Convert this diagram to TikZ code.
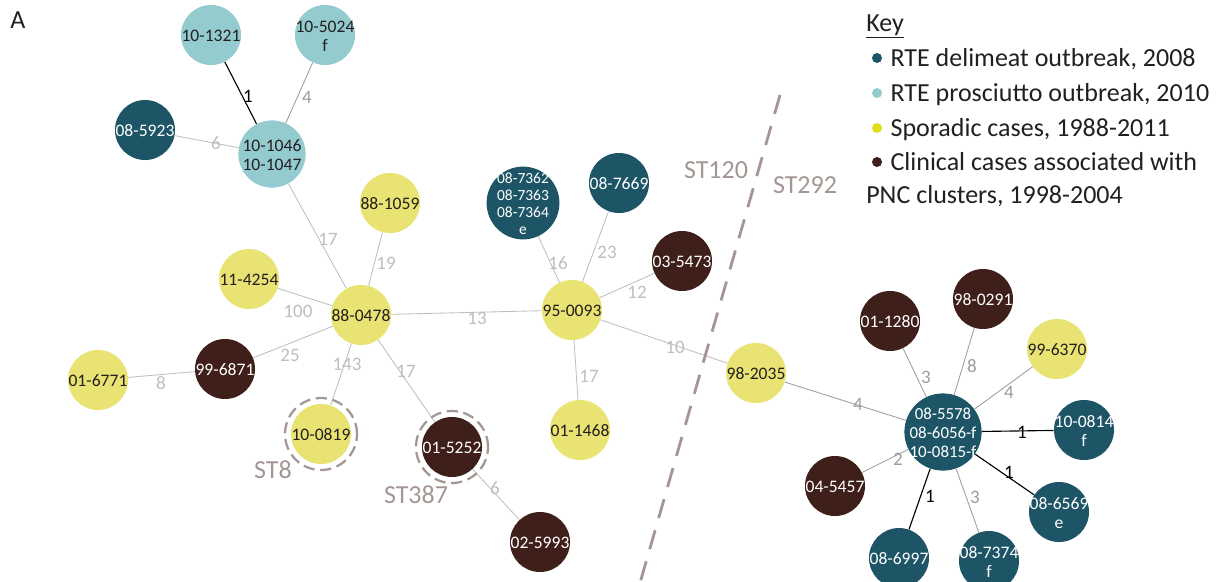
\documentclass[tikz,border=0pt]{standalone}
\usepackage{fontspec}
\setmainfont{Carlito}
\usetikzlibrary{positioning}
\definecolor{colDeli}{HTML}{1E5566}
\definecolor{colPros}{HTML}{94CBCE}
\definecolor{colSpor}{HTML}{E8E373}
\definecolor{colPnc}{HTML}{3E1F1A}
\definecolor{colSporKey}{HTML}{E3DD1E}
\definecolor{colST}{HTML}{A39693}
\definecolor{colInk}{HTML}{231F20}
\definecolor{lnLight}{HTML}{BEBEBE}
\definecolor{lnMid}{HTML}{9C9C9C}
\newcommand{\isotext}[1]{\makebox[0pt]{\raisebox{-0.5\height}[0pt][0pt]{\begin{tabular}[b]{@{}c@{}}#1\end{tabular}}}}
\tikzset{
iso/.style = {circle, inner sep=0pt, minimum size=1.5cm, font=\fontsize{12.5}{14}\selectfont},
deli/.style = {iso, fill=colDeli, text=white},
pros/.style = {iso, fill=colPros, text=colInk},
spor/.style = {iso, fill=colSpor, text=colInk},
pnc/.style = {iso, fill=colPnc, text=white},
link/.style = {draw=lnLight, line width=0.6pt},
linkmid/.style = {draw=lnMid, line width=0.6pt},
linkone/.style = {draw=black, line width=0.8pt},
dlbl/.style = {font=\fontsize{13.5}{15}\selectfont, text=lnLight, inner sep=0pt},
dlblmid/.style = {dlbl, text=lnMid},
dlblone/.style = {dlbl, text=black},
stlabel/.style = {font=\fontsize{18.5}{20}\selectfont, text=colST, inner sep=0pt},
string/.style = {draw=colST, line width=1.6pt, dash pattern=on 8pt off 4pt},
divider/.style = {draw=colST, line width=2pt, dash pattern=on 14pt off 9pt},
keydot/.style = {circle, inner sep=0pt, minimum size=0.25cm},
keytxt/.style = {font=\fontsize{18.5}{20}\selectfont, text=colInk, inner sep=0pt, text height=11.9pt, text depth=0pt, anchor=west}
}
\begin{document}
\begin{tikzpicture}[x=0.025cm, y=-0.025cm]
  \useasboundingbox (0,0) rectangle (1221,581);

  \node [stlabel, text=colInk]                  (panel) at (18,20)   {A};

  \node [pros]                                  (n1321) at (211,35)  {\isotext{10-1321}};
  \node [pros]                                  (n5024) at (325,35)  {\isotext{10-5024\\f}};
  \node [deli]                                  (n5923) at (145,130) {\isotext{08-5923}};
  \node [pros, minimum size=1.68cm]             (n1046) at (272,154) {\isotext{10-1046\\10-1047}};
  \node [spor]                                  (n1059) at (390,203) {\isotext{88-1059}};
  \node [spor]                                  (n4254) at (249,279) {\isotext{11-4254}};
  \node [spor]                                  (n0478) at (361,315) {\isotext{88-0478}};
  \node [pnc]                                   (n6871) at (225,369) {\isotext{99-6871}};
  \node [spor]                                  (n6771) at (98,380)  {\isotext{01-6771}};
  \node [spor]                                  (n0819) at (321,434) {\isotext{10-0819}};
  \node [pnc]                                   (n5252) at (452,447) {\isotext{01-5252}};
  \node [pnc]                                   (n5993) at (540,542) {\isotext{02-5993}};
  \node [deli, minimum size=1.82cm,
         font=\fontsize{11}{12.2}\selectfont]   (n7362) at (523,203) {\isotext{08-7362\\08-7363\\08-7364\\e}};
  \node [deli]                                  (n7669) at (619,183) {\isotext{08-7669}};
  \node [pnc]                                   (n5473) at (682,261) {\isotext{03-5473}};
  \node [spor]                                  (n0093) at (572,310) {\isotext{95-0093}};
  \node [spor]                                  (n1468) at (580,430) {\isotext{01-1468}};
  \node [spor]                                  (n2035) at (756,373) {\isotext{98-2035}};

  \node [pnc]                                   (n1280) at (890,321) {\isotext{01-1280}};
  \node [pnc]                                   (n0291) at (983,299) {\isotext{98-0291}};
  \node [spor]                                  (n6370) at (1057,349) {\isotext{99-6370}};
  \node [deli, minimum size=1.93cm,
         font=\fontsize{12}{13.4}\selectfont]   (n5578) at (943,432) {\isotext{08-5578\\08-6056-f\\10-0815-f}};
  \node [deli]                                  (n0814) at (1084,430) {\isotext{10-0814\\f}};
  \node [deli]                                  (n6569) at (1059,512) {\isotext{08-6569\\e}};
  \node [pnc]                                   (n5457) at (835,486) {\isotext{04-5457}};
  \node [deli]                                  (n6997) at (899,558) {\isotext{08-6997}};
  \node [deli]                                  (n7374) at (989,561) {\isotext{08-7374\\f}};

  \draw [linkone] (n1321) -- (n1046) node [dlblone] (d1) at (248,96)  {1};
  \draw [linkmid] (n5024) -- (n1046) node [dlblmid] (d2) at (307,97)  {4};
  \draw [link]    (n5923) -- (n1046) node [dlbl]    (d3) at (216,143) {6};
  \draw [link]    (n1046) -- (n0478) node [dlbl]    (d4) at (328,239) {17};
  \draw [link]    (n1059) -- (n0478) node [dlbl]    (d5) at (386,263) {19};
  \draw [link]    (n4254) -- (n0478) node [dlbl]    (d6) at (298,311) {100};
  \draw [link]    (n6871) -- (n0478) node [dlbl]    (d7) at (290,355) {25};
  \draw [link]    (n6771) -- (n6871) node [dlbl]    (d8) at (161,383) {8};
  \draw [link]    (n0819) -- (n0478) node [dlbl]    (d9) at (347,364) {143};
  \draw [link]    (n5252) -- (n0478) node [dlbl]    (d10) at (406,371) {17};
  \draw [link]    (n5252) -- (n5993) node [dlbl]    (d11) at (495,488) {6};
  \draw [link]    (n0478) -- (n0093) node [dlbl]    (d12) at (477,318) {13};
  \draw [link]    (n7362) -- (n0093) node [dlbl]    (d13) at (558,263) {16};
  \draw [link]    (n7669) -- (n0093) node [dlbl]    (d14) at (607,252) {23};
  \draw [link]    (n5473) -- (n0093) node [dlbl]    (d15) at (637,292) {12};
  \draw [link]    (n1468) -- (n0093) node [dlbl]    (d16) at (589,376) {17};
  \draw [link]    (n0093) -- (n2035) node [dlbl]    (d17) at (675,347) {10};

  \draw [linkmid] (n2035) -- (n5578) node [dlblmid] (d18) at (858,404) {4};
  \draw [linkmid] (n1280) -- (n5578) node [dlblmid] (d19) at (926,377) {3};
  \draw [linkmid] (n0291) -- (n5578) node [dlblmid] (d20) at (972,366) {8};
  \draw [linkmid] (n6370) -- (n5578) node [dlblmid] (d21) at (1009,392) {4};
  \draw [linkone] (n0814) -- (n5578) node [dlblone] (d22) at (1022,432) {1};
  \draw [linkone] (n6569) -- (n5578) node [dlblone] (d23) at (1009,472) {1};
  \draw [linkmid] (n7374) -- (n5578) node [dlblmid] (d24) at (975,497) {3};
  \draw [linkone] (n6997) -- (n5578) node [dlblone] (d25) at (930,496) {1};
  \draw [linkmid] (n5457) -- (n5578) node [dlblmid] (d26) at (898,459) {2};

  \draw [string] (n0819.center) circle (0.9cm);
  \draw [string] (n5252.center) circle (0.9cm);
  \node [stlabel] (st8)   at (273,470) {ST8};
  \node [stlabel] (st387) at (416,495) {ST387};

  \coordinate (divtop) at (780,95);
  \coordinate (divbot) at (640,583);
  \draw [divider] (divtop) -- (divbot);
  \node [stlabel] (st120) at (716,170) {ST120};
  \node [stlabel] (st292) at (805,185) {ST292};

  \node [keytxt]                       (key) at (866,23) {\underline{Key}};
  \node [keydot, fill=colDeli]         (kb1) at (877,58)  {};
  \node [keytxt, right=0.2cm of kb1]   (kt1) {RTE delimeat outbreak, 2008};
  \node [keydot, fill=colPros]         (kb2) at (877,93)  {};
  \node [keytxt, right=0.2cm of kb2]   (kt2) {RTE prosciutto outbreak, 2010};
  \node [keydot, fill=colSporKey]      (kb3) at (877,128) {};
  \node [keytxt, right=0.2cm of kb3]   (kt3) {Sporadic cases, 1988-2011};
  \node [keydot, fill=colPnc]          (kb4) at (877,162) {};
  \node [keytxt, right=0.2cm of kb4]   (kt4) {Clinical cases associated with};
  \node [keytxt]                       (kt5) at (866,195) {PNC clusters, 1998-2004};
\end{tikzpicture}
\end{document}
